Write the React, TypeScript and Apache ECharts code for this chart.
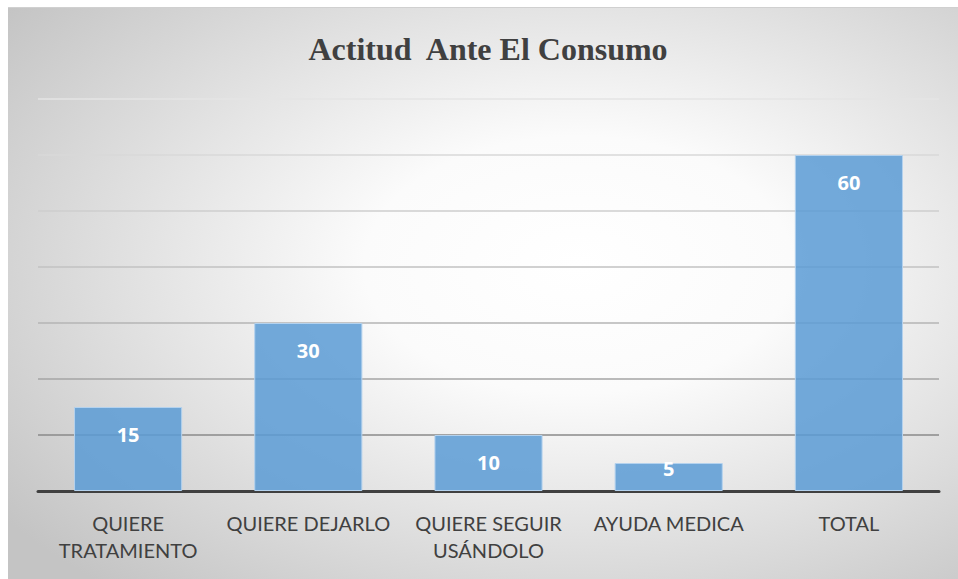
import React, { useEffect, useRef } from "react";
import * as echarts from "echarts";

const categories = ["QUIERE\nTRATAMIENTO", "QUIERE DEJARLO", "QUIERE SEGUIR\nUSÁNDOLO", "AYUDA MEDICA", "TOTAL"];
const values = [15, 30, 10, 5, 60];
const titleText = "Actitud  Ante El Consumo";

export default function App() {
  const ref = useRef<HTMLDivElement>(null);
  useEffect(() => {
    if (!ref.current) return;
    const chart = echarts.init(ref.current, undefined, { renderer: "svg" });
    const seriesData = values.map((v) =>
      v < 8 ? { value: v, label: { distance: -5 } } : { value: v }
    );
    chart.setOption({
      animation: false,
      backgroundColor: {
        type: "radial",
        x: 0.6,
        y: 0.45,
        r: 0.75,
        colorStops: [
          { offset: 0, color: "#ffffff" },
          { offset: 0.3, color: "#fbfbfb" },
          { offset: 1, color: "#c4c4c4" },
        ],
      },
      title: {
        text: titleText,
        left: 475,
        top: 20,
        textAlign: "center",
        textStyle: {
          fontFamily: "'Liberation Serif', 'DejaVu Serif', serif",
          fontWeight: "bold",
          fontSize: 32,
          color: "#404040",
        },
      },
      grid: { left: 30, right: 19, top: 91, bottom: 88 },
      xAxis: {
        type: "category",
        data: categories,
        axisTick: { show: false },
        axisLine: { lineStyle: { color: "#404040", width: 3 } },
        axisLabel: {
          color: "#404040",
          fontFamily: "Lato",
          fontSize: 20,
          lineHeight: 27,
          margin: 18,
          interval: 0,
        },
      },
      yAxis: {
        type: "value",
        min: 0,
        max: 70,
        interval: 10,
        axisLabel: { show: false },
        axisLine: { show: false },
        axisTick: { show: false },
        splitLine: {
          lineStyle: {
            width: 1.5,
            color: ["#808080", "#8a8a8a", "#a4a4a4", "#b4b4b4", "#c2c2c2", "#cecece", "#d8d8d8", "#e4e4e4"],
          },
        },
      },
      series: [
        {
          type: "bar",
          data: seriesData,
          barCategoryGap: "40%",
          itemStyle: {
            color: "rgba(91,155,213,0.85)",
            borderColor: "#b4d2ee",
            borderWidth: 1,
          },
          label: {
            show: true,
            position: "insideTop",
            distance: 17,
            color: "#ffffff",
            fontFamily: "'Open Sans', sans-serif",
            fontWeight: "bold",
            fontSize: 20,
          },
        },
      ],
    });
    return () => chart.dispose();
  }, []);
  return (
    <div
      ref={ref}
      style={{ position: "absolute", left: 8, top: 7, width: 950, height: 572, borderTop: "1px solid #d0d0d0", boxSizing: "border-box" }}
    />
  );
}
